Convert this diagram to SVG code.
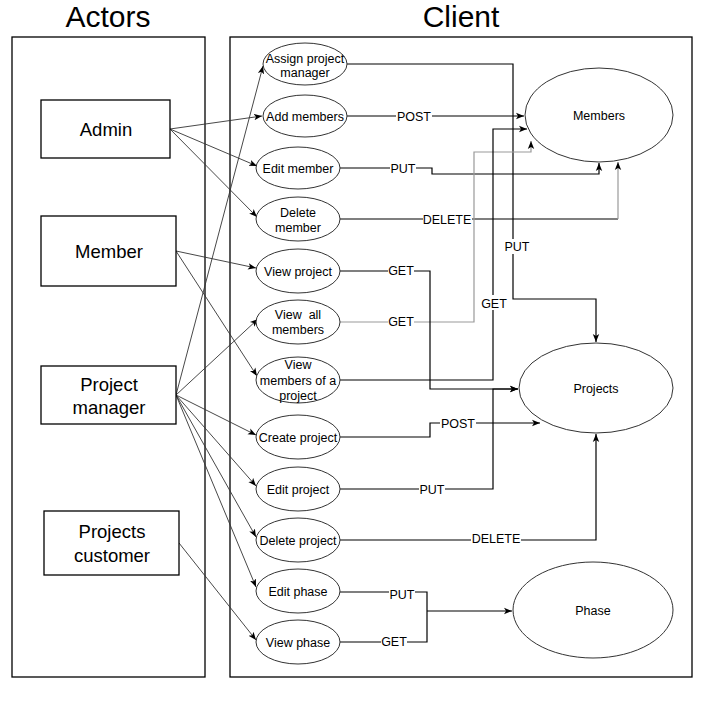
<svg xmlns="http://www.w3.org/2000/svg" width="727" height="703" viewBox="0 0 727 703">
<style>
text{font-family:"Liberation Sans",Arial,sans-serif;fill:#000;text-anchor:middle}
.title{font-size:30px}
.actor{font-size:18.5px}
.uc{font-size:12.5px}
.lbl{font-size:12.5px}
.frame{fill:none;stroke:#000;stroke-width:1.3}
.box{fill:#fff;stroke:#000;stroke-width:1.3}
.ell{fill:#fff;stroke:#333;stroke-width:1}
.e{fill:none;stroke:#333;stroke-width:0.9;marker-end:url(#a)}
.c{fill:none;stroke:#000;stroke-width:1.2;marker-end:url(#a)}
.p{fill:none;stroke:#000;stroke-width:1.2}
.g{stroke:#999}
.bg{fill:#fff}
</style>
<defs>
<marker id="a" markerWidth="9" markerHeight="8" refX="8" refY="4" orient="auto" markerUnits="userSpaceOnUse">
<path d="M0,0.8 L8,4 L0,7.2 L2,4 z" fill="#000"/>
</marker>
</defs>
<rect width="727" height="703" fill="#fff"/>

<g id="frames">
<rect class="frame" x="12" y="37" width="193" height="640"/>
<rect class="frame" x="230" y="37" width="462" height="640"/>
<text class="title" x="108" y="27">Actors</text>
<text class="title" x="461" y="27">Client</text>
</g>

<g id="connectors">
<!-- actor to use case -->
<path class="e" d="M170,129 L262,116"/>
<path class="e" d="M170,129 L257,166"/>
<path class="e" d="M170,129 L257,217"/>
<path class="e" d="M176,251 L256,268"/>
<path class="e" d="M176,251 L257,376"/>
<path class="e" d="M176,395 L263,66"/>
<path class="e" d="M176,395 L258,319"/>
<path class="e" d="M176,395 L256,435"/>
<path class="e" d="M176,395 L256,486"/>
<path class="e" d="M176,395 L256,537"/>
<path class="e" d="M176,395 L256,587"/>
<path class="e" d="M179,543 L256,640"/>
<!-- use case to resources -->
<path class="c" d="M347,64 H513 V299 H596 V342"/>
<path class="c" d="M347,116 H524"/>
<path class="c" d="M340,168 H432 V174 H599 V163"/>
<path class="p" d="M340,219 H618"/>
<path class="c g" d="M618,219 V162"/>
<path class="c g" d="M340,322 H474 V152 H531 V141"/>
<path class="c" d="M340,380 H493 V129 H527"/>
<path class="c" d="M340,271 H430 V389 H518"/>
<path class="c" d="M340,489 H493 V389 H518"/>
<path class="c" d="M340,437 H430 V423 H540"/>
<path class="c" d="M340,540 H596 V434"/>
<path class="p" d="M340,592 H427 V642 H340"/>
<path class="c" d="M427,611 H512"/>
<!-- labels -->
<rect class="bg" x="504" y="239" width="26" height="15"/><text class="lbl" x="517" y="251">PUT</text>
<rect class="bg" x="396" y="109" width="36" height="14"/><text class="lbl" x="414" y="120.5">POST</text>
<rect class="bg" x="390" y="161" width="26" height="14"/><text class="lbl" x="403" y="172.5">PUT</text>
<rect class="bg" x="423" y="212" width="49" height="14"/><text class="lbl" x="447" y="223.5">DELETE</text>
<rect class="bg" x="388" y="263" width="26" height="14"/><text class="lbl" x="401" y="274.5">GET</text>
<rect class="bg" x="388" y="314" width="26" height="14"/><text class="lbl" x="401" y="325.5">GET</text>
<rect class="bg" x="481" y="295" width="26" height="15"/><text class="lbl" x="494" y="307.5">GET</text>
<rect class="bg" x="440" y="416" width="36" height="14"/><text class="lbl" x="458" y="427.5">POST</text>
<rect class="bg" x="419" y="482" width="26" height="14"/><text class="lbl" x="432" y="493.5">PUT</text>
<rect class="bg" x="471" y="532" width="50" height="14"/><text class="lbl" x="496" y="543">DELETE</text>
<rect class="bg" x="389" y="587" width="26" height="14"/><text class="lbl" x="402" y="598.5">PUT</text>
<rect class="bg" x="381" y="634" width="26" height="14"/><text class="lbl" x="394" y="645.5">GET</text>
</g>

<g id="admin"><rect class="box" x="41" y="100" width="129" height="58"/><text class="actor" x="106" y="136">Admin</text></g>
<g id="member"><rect class="box" x="41" y="216" width="135" height="70"/><text class="actor" x="109" y="258">Member</text></g>
<g id="project-manager"><rect class="box" x="41" y="366" width="135" height="58"/><text class="actor" x="109" y="391">Project</text><text class="actor" x="109" y="414">manager</text></g>
<g id="projects-customer"><rect class="box" x="44" y="511" width="135" height="64"/><text class="actor" x="112" y="538">Projects</text><text class="actor" x="112" y="562">customer</text></g>

<g id="uc-assign"><ellipse class="ell" cx="305" cy="64" rx="42" ry="21"/><text class="uc" x="305" y="63">Assign project</text><text class="uc" x="305" y="77">manager</text></g>
<g id="uc-add-members"><ellipse class="ell" cx="305" cy="116" rx="42" ry="21"/><text class="uc" x="305" y="120.5">Add members</text></g>
<g id="uc-edit-member"><ellipse class="ell" cx="298" cy="168" rx="42" ry="21"/><text class="uc" x="298" y="172.5">Edit member</text></g>
<g id="uc-delete-member"><ellipse class="ell" cx="298" cy="219" rx="42" ry="22"/><text class="uc" x="298" y="217">Delete</text><text class="uc" x="298" y="231.5">member</text></g>
<g id="uc-view-project"><ellipse class="ell" cx="298" cy="271" rx="42" ry="22"/><text class="uc" x="298" y="275.5">View project</text></g>
<g id="uc-view-all-members"><ellipse class="ell" cx="298" cy="322" rx="42" ry="22"/><text class="uc" x="298" y="319" xml:space="preserve">View  all</text><text class="uc" x="298" y="334">members</text></g>
<g id="uc-view-members-project"><ellipse class="ell" cx="298" cy="380" rx="42" ry="23"/><text class="uc" x="298" y="369">View</text><text class="uc" x="298" y="384.5">members of a</text><text class="uc" x="298" y="399.5">project</text></g>
<g id="uc-create-project"><ellipse class="ell" cx="298" cy="437" rx="42" ry="22"/><text class="uc" x="298" y="441.5">Create project</text></g>
<g id="uc-edit-project"><ellipse class="ell" cx="298" cy="489" rx="42" ry="22"/><text class="uc" x="298" y="493.5">Edit project</text></g>
<g id="uc-delete-project"><ellipse class="ell" cx="298" cy="540" rx="42" ry="22"/><text class="uc" x="298" y="544.5">Delete project</text></g>
<g id="uc-edit-phase"><ellipse class="ell" cx="298" cy="591" rx="42" ry="22"/><text class="uc" x="298" y="595.5">Edit phase</text></g>
<g id="uc-view-phase"><ellipse class="ell" cx="298" cy="642" rx="42" ry="22"/><text class="uc" x="298" y="646.5">View phase</text></g>

<g id="members"><ellipse class="ell" cx="599" cy="115" rx="74" ry="47"/><text class="uc" x="599" y="119.5">Members</text></g>
<g id="projects"><ellipse class="ell" cx="596" cy="388" rx="77" ry="45"/><text class="uc" x="596" y="393">Projects</text></g>
<g id="phase"><ellipse class="ell" cx="593" cy="610" rx="80" ry="48"/><text class="uc" x="593" y="614.5">Phase</text></g>
</svg>
